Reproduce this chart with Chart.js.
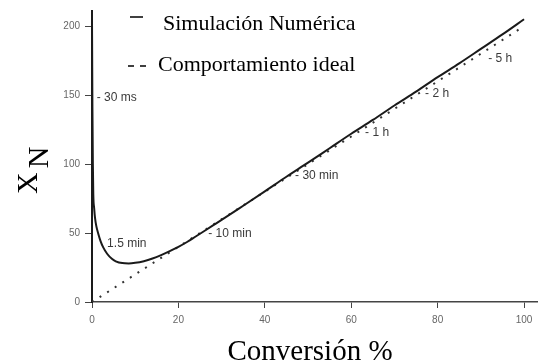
<!DOCTYPE html>
<html>
<head>
<meta charset="utf-8">
<script src="https://cdn.jsdelivr.net/npm/chart.js@4/dist/chart.umd.min.js"></script>
<style>
html,body{margin:0;padding:0;background:#fff;}
#wrap{width:539px;height:364px;position:relative;}
</style>
</head>
<body>
<div id="wrap"><canvas id="c" width="539" height="364"></canvas></div>
<script>
// Simulated curve (Conversión %, X_N)
const simX = [0, 0.05, 0.1, 0.2, 0.3, 0.5, 0.7, 1, 1.5, 2, 2.6, 3.5, 4.6, 5.5, 7, 8.5, 10, 12, 14, 16, 18, 20, 22, 24, 26, 28, 30, 35, 40, 45, 50, 55, 60, 65, 70, 75, 80, 85, 90, 95, 100];
const simY = [205, 170, 140, 100, 78, 68, 61, 55, 49, 44, 39.6, 35, 31.3, 29.5, 28.2, 28, 28.4, 29.6, 31.5, 34, 36.9, 40, 43.5, 47.5, 51.5, 55.5, 59.5, 69.8, 80.2, 90.8, 101, 111.5, 122, 132, 142.5, 152.5, 163, 173, 183.5, 194, 205];
// Ideal behaviour
const idealX = [0, 100];
const idealY = [0, 200];
// Time annotations along the curve
const annTexts = ["- 30 ms", "1.5 min", "- 10 min", "- 30 min", "- 1 h", "- 2 h", "- 5 h"];
const annX = [1.1, 3.5, 26.9, 47, 63.2, 77.1, 91.7];
const annY = [148, 42.3, 49.5, 91.8, 122.6, 151.3, 176.3];
// Axis ticks
const xTicks = [0, 20, 40, 60, 80, 100];
const yTicks = [0, 50, 100, 150, 200];
const legendLabels = ["Simulación Numérica", "Comportamiento ideal"];
const xTitle = "Conversión %";

const toPts = (xs, ys) => xs.map((x, i) => ({x: x, y: ys[i]}));

const overlay = {
  id: 'overlay',
  afterDraw(chart) {
    const ctx = chart.ctx;
    const xs = chart.scales.x, ys = chart.scales.y;
    ctx.save();
    // annotations
    ctx.fillStyle = '#3a3a3a';
    ctx.font = '12px "Liberation Sans", Arial, sans-serif';
    ctx.textBaseline = 'middle';
    ctx.textAlign = 'left';
    annTexts.forEach((t, i) => {
      ctx.fillText(t, xs.getPixelForValue(annX[i]), ys.getPixelForValue(annY[i]));
    });
    // legend
    ctx.fillStyle = '#000';
    ctx.font = '22px "Liberation Serif", "Times New Roman", serif';
    ctx.textBaseline = 'alphabetic';
    ctx.fillText(legendLabels[0], 163, 30);
    ctx.fillText(legendLabels[1], 158, 71);
    ctx.strokeStyle = '#000';
    ctx.lineWidth = 1.5;
    ctx.beginPath(); ctx.moveTo(130, 17); ctx.lineTo(143, 17); ctx.stroke();
    ctx.beginPath(); ctx.moveTo(128, 66); ctx.lineTo(134, 66); ctx.moveTo(140, 66); ctx.lineTo(146, 66); ctx.stroke();
    // x title
    ctx.font = '29px "Liberation Serif", "Times New Roman", serif';
    ctx.textAlign = 'center';
    ctx.fillText(xTitle, 310, 360);
    // y title X_N rotated
    ctx.translate(37, 194);
    ctx.rotate(-Math.PI / 2);
    ctx.textAlign = 'left';
    ctx.font = '30px "Liberation Serif", "Times New Roman", serif';
    ctx.fillText('X', 0, 0);
    const w = ctx.measureText('X').width;
    ctx.fillText('N', w + 4, 11);
    ctx.restore();
  }
};

new Chart(document.getElementById('c'), {
  type: 'line',
  data: {
    datasets: [
      {
        label: legendLabels[0],
        data: toPts(simX, simY),
        borderColor: '#1a1a1a',
        borderWidth: 2,
        pointRadius: 0,
        cubicInterpolationMode: 'monotone',
        fill: false
      },
      {
        label: legendLabels[1],
        data: toPts(idealX, idealY),
        borderColor: '#333',
        borderWidth: 2,
        borderDash: [2, 7],
        pointRadius: 0,
        fill: false
      }
    ]
  },
  options: {
    responsive: false,
    animation: false,
    devicePixelRatio: 1,
    layout: {padding: {left: 0, right: 2, top: 8, bottom: 0}},
    plugins: {legend: {display: false}, tooltip: {enabled: false}},
    scales: {
      x: {
        type: 'linear', min: 0, max: 103,
        afterFit(s) { s.height = 62; },
        afterBuildTicks(s) { s.ticks = xTicks.map(v => ({value: v})); },
        border: {display: true, color: '#444', width: 1.5},
        grid: {display: true, drawOnChartArea: false, drawTicks: true, tickLength: 6, color: '#444', lineWidth: 1},
        ticks: {color: '#666', padding: 6, maxRotation: 0, font: {size: 10, family: '"Liberation Sans", Arial, sans-serif'}}
      },
      y: {
        type: 'linear', min: 0, max: 211,
        afterFit(s) { s.width = 92; },
        afterBuildTicks(s) { s.ticks = yTicks.map(v => ({value: v})); },
        border: {display: true, color: '#1a1a1a', width: 2},
        grid: {display: true, drawOnChartArea: false, drawTicks: true, tickLength: 7, color: '#444', lineWidth: 1},
        ticks: {color: '#666', padding: 5, font: {size: 10, family: '"Liberation Sans", Arial, sans-serif'}}
      }
    }
  },
  plugins: [overlay]
});
</script>
</body>
</html>
